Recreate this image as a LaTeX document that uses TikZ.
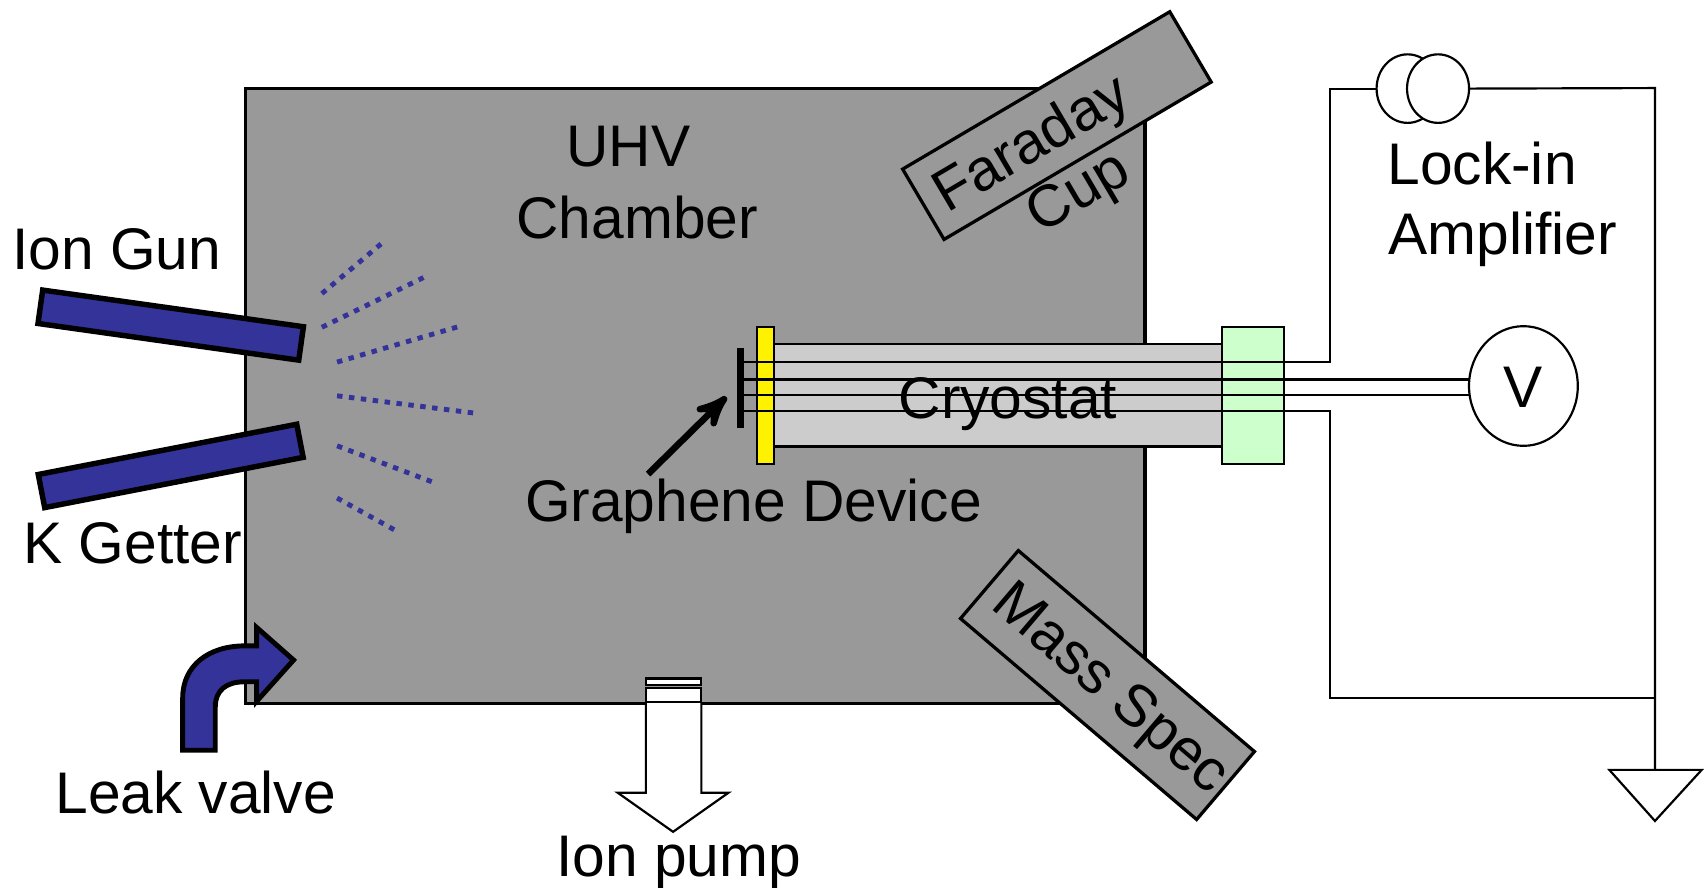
\documentclass[tikz,border=0pt]{standalone}
\usepackage{fontspec}
\setmainfont{Liberation Sans}
\usepackage{tikz}
\usetikzlibrary{arrows,shapes.geometric}
\definecolor{chambergray}{HTML}{999999}
\definecolor{cryogray}{HTML}{CCCCCC}
\definecolor{gunblue}{HTML}{333399}
\definecolor{flangegreen}{HTML}{CCFFCC}
\tikzset{
	lbl/.style={inner sep=0pt,font=\fontsize{15.35pt}{18pt}\selectfont},
	box/.style={draw,line width=0.03cm,fill=chambergray,inner sep=0pt,outer sep=0pt},
	gun/.style={draw,line width=0.05cm,fill=gunblue,inner sep=0pt,outer sep=0pt,minimum width=2.42cm,minimum height=0.31cm},
	wire/.style={line width=0.02cm},
	part/.style={draw,line width=0.02cm,anchor=north west,inner sep=0pt,outer sep=0pt},
	meter/.style={draw,ellipse,line width=0.02cm,fill=white,inner sep=0pt,outer sep=0pt}
}
\begin{document}
\begin{tikzpicture}[x=0.01cm,y=-0.01cm]
		\useasboundingbox (0,0) rectangle (1568,816);
		\node[box,anchor=north west,minimum width=8.27cm,minimum height=5.65cm] (chamber) at (225.5,81.5) {};
		\node[box,minimum width=2.85cm,minimum height=0.75cm,rotate=30.5] (faraday) at (972,115.5) {};
		\node[box,minimum width=2.85cm,minimum height=0.82cm,rotate=-40.4] (massspec) at (1018.5,630) {};
		\node[gun,rotate=-8] (iongunbar) at (157,299) {};
		\node[gun,rotate=11] (kgetterbar) at (157,428.5) {};
		\foreach \xa/\ya/\xb/\yb in {296/270/352/223,296/301/392/254,310/333/423/300,310/364/437/380,310/410/397/443,310/458/364/488}
		\draw[color=gunblue,line width=0.045cm,dash pattern=on 0.05cm off 0.06cm] (\xa,\ya) -- (\xb,\yb);
		\node[part,fill=yellow,minimum width=0.15cm,minimum height=1.26cm] (sample) at (696.5,301) {};
		\node[part,fill=cryogray,minimum width=4.12cm,minimum height=0.94cm] (cryostat) at (711.5,316.5) {};
		\node[part,fill=flangegreen,minimum width=0.57cm,minimum height=1.26cm] (flange) at (1123.5,301) {};
		\node[meter,minimum width=1cm,minimum height=1.1cm] (voltmeter) at (1401,355) {};
		\node[meter,minimum width=0.57cm,minimum height=0.63cm] (coila) at (1294.5,81.5) {};
		\node[meter,minimum width=0.57cm,minimum height=0.63cm] (coilb) at (1322.5,81.5) {};
		\coordinate (wirea) at (681,333);
		\coordinate (wireb) at (681,349);
		\coordinate (wirec) at (681,363);
		\coordinate (wired) at (681,378);
		\coordinate (cornera) at (1223,333);
		\coordinate (cornerb) at (1223,378);
		\coordinate (cornerc) at (1522,81);
		\coordinate (cornerd) at (1522,642);
		\draw[wire] (wirea) -- (cornera) -- (cornera |- coila.west) -- (coila.west);
		\draw[wire] (wireb) -- (wireb -| voltmeter.west);
		\draw[wire] (wirec) -- (wirec -| voltmeter.west);
		\draw[wire] (wired) -- (cornerb) -- (cornerb |- cornerd) -- (cornerd);
		\draw[wire] (coilb.east) -- (cornerc) -- (cornerd) -- (1522,708) coordinate (groundtop);
		\draw[wire,fill=white] (1480,708) -- (1565,708) -- (1522,755) -- cycle;
		\draw[line width=0.06cm] (681,320) -- (681,394);
		\coordinate (devicearrowstart) at (596,436);
		\coordinate (devicearrowend) at (668,365);
		\draw[-stealth',line width=0.06cm] (devicearrowstart) -- (devicearrowend);
		\draw[line width=0.045cm,fill=gunblue] (168,690) -- (168,642) .. controls (168,612) and (192,594) .. (225,594) -- (236,594) -- (236,577) -- (270,607) -- (236,645) -- (236,627) -- (225,627) .. controls (208,627) and (198,635) .. (198,650) -- (198,690) -- cycle;
		\draw[line width=0.02cm,fill=white] (594,646) -- (594,729) -- (568,729) -- (619,765) -- (670,729) -- (645,729) -- (645,646);
		\node[part,fill=white,minimum width=0.51cm,minimum height=0.06cm] (pumpflangea) at (594,624) {};
		\node[part,fill=white,minimum width=0.51cm,minimum height=0.13cm] (pumpflangeb) at (594,632.5) {};
		\node[lbl] (uhvlabel) at (578,135) {UHV};
		\node[lbl] (chamberlabel) at (586,200) {Chamber};
		\node[lbl] (ionlabel) at (107.5,229) {Ion Gun};
		\node[lbl] (klabel) at (122,500) {K Getter};
		\node[lbl] (graphenelabel) at (693,466) {Graphene Device};
		\node[lbl] (cryolabel) at (927,372) {Cryostat};
		\node[lbl] (lockinlabel) at (1363,150) {Lock-in};
		\node[lbl] (amplabel) at (1382,220) {Amplifier};
		\node[lbl] (leaklabel) at (180,729) {Leak valve};
		\node[lbl] (pumplabel) at (624,793) {Ion pump};
		\node[lbl] (vlabel) at (1401,356) {V};
		\node[lbl,rotate=30.5] (faradaylabel) at (950,134) {Faraday};
		\node[lbl,rotate=30.5] (cuplabel) at (993,179) {Cup};
		\node[lbl,rotate=-40.4] (masslabel) at (1020,635) {Mass Spec};
	\end{tikzpicture}
\end{document}
